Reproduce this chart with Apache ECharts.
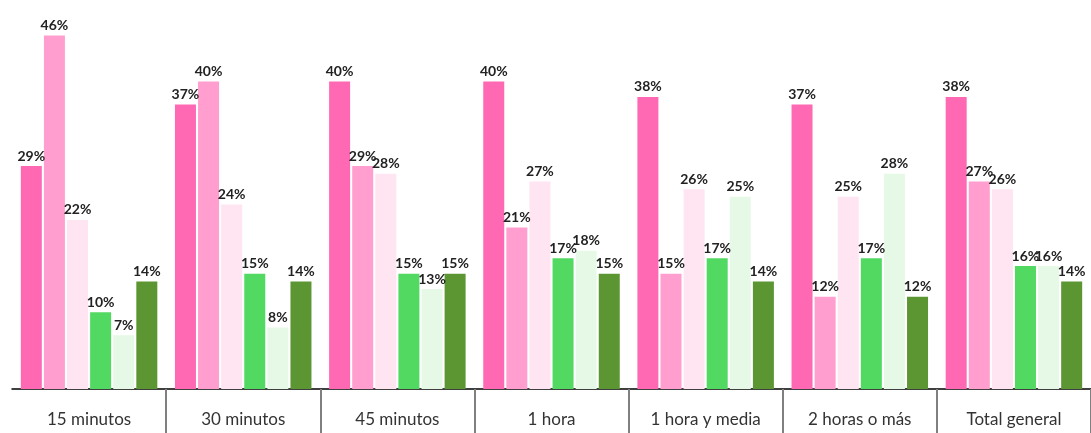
<!DOCTYPE html>
<html>
<head>
<meta charset="utf-8">
<script src="https://cdn.jsdelivr.net/npm/echarts@6/dist/echarts.min.js"></script>
<style>
  html, body { margin: 0; padding: 0; background: #ffffff; }
  #chart { width: 1091px; height: 433px; }
</style>
</head>
<body>
<div id="chart"></div>
<script>
// Duración del trayecto (categorías del eje X)
const categories = ['15 minutos', '30 minutos', '45 minutos', '1 hora', '1 hora y media', '2 horas o más', 'Total general'];

// Porcentajes por grupo, en el orden de las categorías
const serieA = [29, 37, 40, 40, 38, 37, 38];
const serieB = [46, 40, 29, 21, 15, 12, 27];
const serieC = [22, 24, 28, 27, 26, 25, 26];
const serieD = [10, 15, 15, 17, 17, 17, 16];
const serieE = [7, 8, 13, 18, 25, 28, 16];
const serieF = [14, 14, 15, 15, 14, 12, 14];

const seriesData = [serieA, serieB, serieC, serieD, serieE, serieF];
const colors = ['#FF69B4', '#FF9ECF', '#FFE4F1', '#52D962', '#E6F9E6', '#5B9633'];

const chart = echarts.init(document.getElementById('chart'), null, { renderer: 'canvas' });

chart.setOption({
  animation: false,
  backgroundColor: '#ffffff',
  // right edge sits just past the canvas so the closing boundary tick is clipped
  grid: { left: 12, right: -2, top: 20, bottom: 44, containLabel: false },
  xAxis: {
    type: 'category',
    data: categories,
    boundaryGap: true,
    axisLine: { show: true, lineStyle: { color: '#000000', width: 1.5 } },
    axisTick: {
      show: true,
      length: 46,
      // separators only between groups, not at the outer edges
      interval: function (index) { return index > 0 && index < categories.length; },
      lineStyle: { color: '#808080', width: 2 }
    },
    axisLabel: {
      interval: 0,
      margin: 22,
      fontFamily: 'Lato',
      fontSize: 17,
      color: '#333333'
    }
  },
  yAxis: {
    type: 'value',
    min: 0,
    max: 48,
    show: false,
    splitLine: { show: false }
  },
  series: seriesData.map((vals, i) => ({
    type: 'bar',
    data: vals,
    barWidth: 21,
    barGap: '10%',
    itemStyle: { color: colors[i] },
    label: {
      show: true,
      position: 'top',
      distance: 3,
      formatter: '{c}%',
      fontFamily: 'Lato',
      fontWeight: 'bold',
      fontSize: 14,
      color: '#222222'
    }
  }))
});
</script>
</body>
</html>
